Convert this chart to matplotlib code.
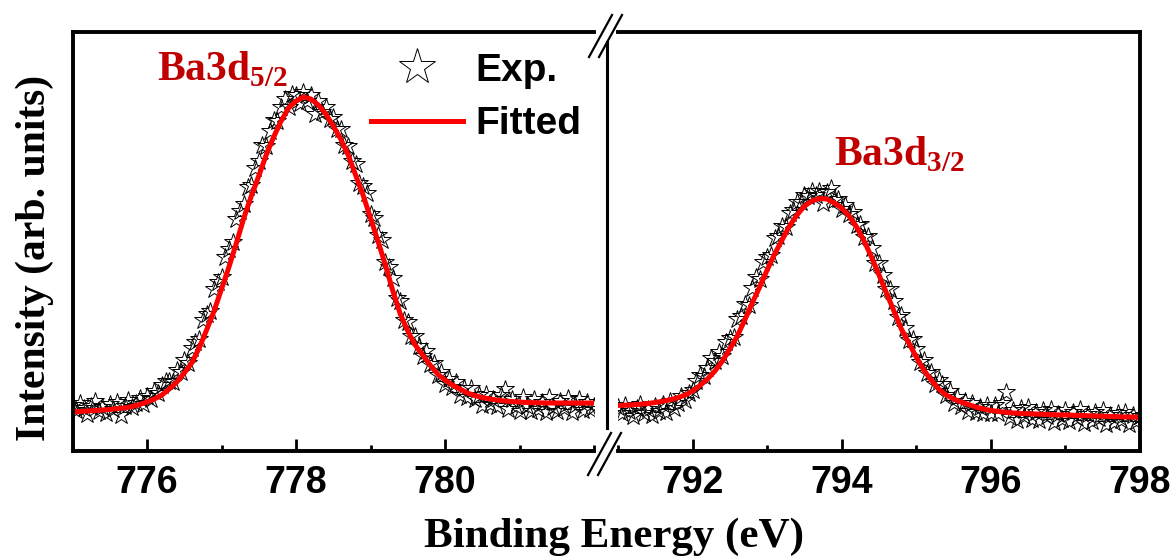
import numpy as np
import matplotlib
matplotlib.use('Agg')
import matplotlib.pyplot as plt
from matplotlib.lines import Line2D
from matplotlib.ticker import MultipleLocator

# Ba3d XPS, two windows of the binding-energy axis
e_step = 0.05            # scan step (eV)
fit_step = 0.1           # step of the fitted envelope (eV)
left_start = 775.0
right_start = 791.0

# Exp. points (arb. units), Ba3d5/2 window 775..782 eV
exp_left = [46, 41, 48, 43, 37, 45, 50, 40, 44, 38, 47, 42, 49, 36, 45, 51, 44, 48, 53, 47,
            55, 52, 60, 58, 66, 70, 70, 69, 81, 79, 91, 88, 103, 109, 112, 131, 137, 140, 162, 169,
            174, 194, 202, 209, 232, 240, 247, 264, 266, 283, 290, 306, 305, 320, 331, 330, 344, 352, 344, 357,
            356, 348, 359, 350, 356, 337, 350, 339, 344, 332, 334, 322, 322, 306, 305, 290, 287, 268, 265, 258,
            237, 233, 216, 211, 189, 184, 173, 153, 150, 131, 129, 115, 115, 105, 95, 100, 87, 88, 76, 79,
            67, 72, 64, 69, 56, 63, 54, 63, 52, 56, 46, 57, 47, 52, 45, 56, 62, 42, 52, 45,
            40, 54, 45, 40, 52, 42, 49, 39, 54, 44, 40, 50, 43, 53, 39, 46, 52, 41, 49, 42,
            45]

# Exp. points (arb. units), Ba3d3/2 window 791..798 eV
exp_right = [44, 38, 46, 40, 35, 43, 47, 38, 42, 36, 45, 40, 47, 39, 50, 43, 48, 55, 51, 58,
             61, 70, 76, 75, 83, 93, 90, 99, 95, 109, 113, 114, 132, 135, 147, 146, 163, 174, 172, 189,
             194, 196, 213, 215, 225, 224, 238, 241, 249, 249, 256, 255, 260, 256, 260, 248, 259, 263, 251, 252,
             242, 246, 237, 239, 226, 227, 214, 215, 203, 188, 188, 176, 162, 162, 150, 134, 136, 123, 111, 112,
             102, 89, 91, 78, 79, 67, 71, 67, 56, 60, 48, 54, 45, 50, 40, 48, 39, 44, 38, 46,
             38, 46, 38, 48, 59, 34, 41, 31, 43, 35, 44, 32, 39, 31, 41, 35, 42, 29, 37, 32,
             41, 30, 39, 33, 42, 28, 37, 30, 39, 33, 41, 27, 36, 29, 38, 31, 39, 27, 36, 30,
             35]

# fitted curves
fit_left = [39, 39.5, 40, 40.5, 41, 41.5, 42.5, 43, 44.5, 46.5,
            49, 52, 56, 62, 69, 78, 88, 103, 121, 140,
            162, 184, 208, 233, 255, 275, 296, 314, 330, 343,
            350, 354, 352, 346, 337, 325, 312, 296, 276, 256,
            233, 210, 186, 160, 137, 120, 106, 96, 86, 77,
            71, 66, 62, 58, 55.5, 53.5, 52, 51, 50, 49.5,
            49, 48.5, 48.3, 48.1, 48, 48, 48, 48, 48, 48,
            48]
fit_right = [45.5, 45.8, 46.2, 46.8, 47.5, 48.5, 49.8, 51.2, 53.2, 56,
             60, 65.5, 72, 80, 90, 102, 115, 131, 148, 164,
             181, 197, 211, 225, 236, 245, 250, 252.5, 252, 248,
             243, 235, 224, 210, 194, 176, 158, 140, 122, 108,
             94, 81, 71, 62, 56, 52, 49, 46.5, 44, 42,
             40.5, 39.5, 38.7, 38, 37.6, 37.3, 37, 36.7, 36.4, 36.2,
             36, 35.8, 35.5, 35.3, 35, 34.8, 34.6, 34.3, 34.1, 33.9,
             33.7]

e_left = left_start + e_step * np.arange(len(exp_left))
e_right = right_start + e_step * np.arange(len(exp_right))
ef_left = left_start + fit_step * np.arange(len(fit_left))
ef_right = right_start + fit_step * np.arange(len(fit_right))

plt.rcParams['mathtext.fontset'] = 'custom'
plt.rcParams['mathtext.bf'] = 'Liberation Serif:bold'
plt.rcParams['mathtext.rm'] = 'Liberation Serif:bold'

W, H = 1173, 556
fig = plt.figure(figsize=(W / 100, H / 100), dpi=100)
ax1 = fig.add_axes([72.5 / W, 105 / H, 521.5 / W, 419 / H])
ax2 = fig.add_axes([618 / W, 105 / H, 522 / W, 419 / H])

star_kw = dict(ls='none', marker='*', ms=13.5, mfc='none', mec='black', mew=0.7)
red = '#ff0000'
lab_red = '#c00000'

ax1.plot(e_left, exp_left, label='Exp.', **star_kw)
ax1.plot(ef_left, fit_left, color=red, lw=3.6, label='Fitted')
ax2.plot(e_right, exp_right, **star_kw)
ax2.plot(ef_right, fit_right, color=red, lw=3.6)

ax1.set_xlim(775, 782)
ax2.set_xlim(791, 798)
ax1.set_xticks([776, 778, 780])
ax2.set_xticks([792, 794, 796, 798])

for ax in (ax1, ax2):
    ax.set_ylim(0, 419)
    ax.set_yticks([])
    ax.xaxis.set_minor_locator(MultipleLocator(1))
    ax.tick_params(axis='x', which='major', direction='in', length=8.5, width=2,
                   labelsize=27, pad=10, top=False)
    ax.tick_params(axis='x', which='minor', direction='in', length=4, width=2, top=False)
    for t in ax.get_xticklabels():
        t.set_family('Liberation Sans')
        t.set_fontweight('bold')
    for s in ax.spines.values():
        s.set_linewidth(2.8)

ax1.spines['right'].set_visible(False)
ax2.spines['left'].set_visible(False)

ax1.text(776.14, 371, r'Ba3d$_{\mathbf{5/2}}$', color=lab_red, fontsize=30,
         family='Liberation Serif', fontweight='bold', ha='left', va='baseline')
ax2.text(793.89, 286, r'Ba3d$_{\mathbf{3/2}}$', color=lab_red, fontsize=30,
         family='Liberation Serif', fontweight='bold', ha='left', va='baseline')

ax1.legend(loc='upper left', bbox_to_anchor=(0.572, 0.95), frameon=False,
           borderpad=0, borderaxespad=0, handlelength=2.37, handletextpad=0.33,
           labelspacing=0.45, markerscale=2.0,
           prop={'family': 'Liberation Sans', 'weight': 'bold', 'size': 28})

fig.text(614 / W, 1 - 547 / H, 'Binding Energy (eV)', family='Liberation Serif',
         fontweight='bold', fontsize=31, ha='center', va='baseline')
fig.text(35 / W, 1 - 258 / H, 'Intensity (arb. units)', family='Liberation Serif',
         fontweight='bold', fontsize=30, ha='center', va='center', rotation=90)

# axis break marks and the inner vertical line
def px_line(x0, y0, x1, y1, lw):
    fig.add_artist(Line2D([x0 / W, x1 / W], [1 - y0 / H, 1 - y1 / H],
                          transform=fig.transFigure, color='black', lw=lw))

px_line(607, 42, 607, 428, 2.2)
for dx in (0, 10):
    px_line(589 + dx, 57, 612 + dx, 15, 1.6)
    px_line(588 + dx, 475, 611 + dx, 433, 1.6)

fig.savefig('out.png', dpi=100)
